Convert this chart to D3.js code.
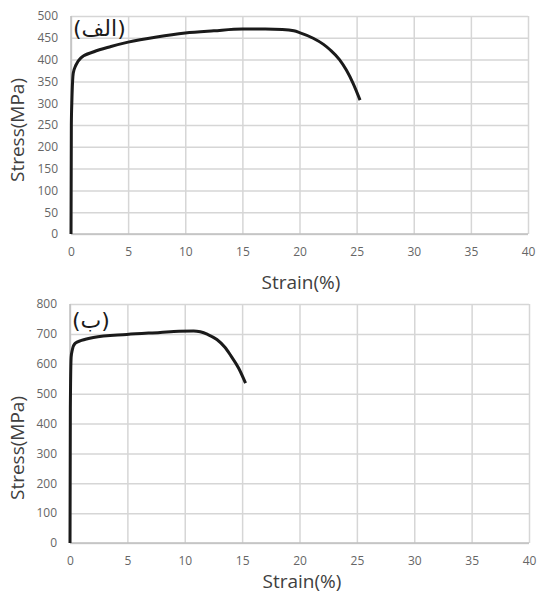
<!DOCTYPE html>
<html>
<head>
<meta charset="utf-8">
<script src="https://cdn.jsdelivr.net/npm/d3@7"></script>
<style>
html,body{margin:0;padding:0;background:#fff;}
svg{display:block;}
</style>
</head>
<body>
<svg id="c" width="537" height="596"></svg>
<script>
// Data
const xTicks = [0, 5, 10, 15, 20, 25, 30, 35, 40];
const yTicksA = [0, 50, 100, 150, 200, 250, 300, 350, 400, 450, 500];
const yTicksB = [0, 100, 200, 300, 400, 500, 600, 700, 800];

const strainA = [0, 0.03, 0.08, 0.2, 0.44, 0.87, 2, 3.5, 5, 7.5, 10, 12.5, 15, 17, 18.5, 19.5, 20, 21.2, 22.1, 22.7, 23.5, 24.1, 24.7, 25.3];
const stressA = [0, 250, 307, 369, 388, 404, 418, 430, 440, 452, 461, 466, 470, 470, 469, 466, 462, 449, 435, 422, 400, 376, 345, 307];

const strainB = [0, 0.03, 0.1, 0.2, 0.44, 1, 2.04, 4.95, 7.86, 9.5, 10.77, 11.35, 12, 12.8, 13.5, 14, 14.7, 15.3];
const stressB = [0, 450, 622, 646, 668, 678, 688, 698, 705, 709, 710, 707, 698, 681, 655, 628, 585, 535];

const svg = d3.select("#c");
const font = "'Open Sans', sans-serif";

function drawChart(cfg) {
  const x = d3.scaleLinear().domain([0, 40]).range([cfg.x0, cfg.x1]);
  const y = d3.scaleLinear().domain([0, cfg.ymax]).range([cfg.y0, cfg.y1]);
  const g = svg.append("g");

  // grid
  g.append("g").attr("transform", `translate(0,${cfg.y0})`)
    .call(d3.axisBottom(x).tickValues(xTicks).tickSize(-(cfg.y0 - cfg.y1)).tickFormat(""))
    .call(s => s.select(".domain").remove())
    .call(s => s.selectAll("line").attr("stroke", "#d6d6d6").attr("stroke-width", 1.5));
  g.append("g").attr("transform", `translate(${cfg.x0},0)`)
    .call(d3.axisLeft(y).tickValues(cfg.yTicks).tickSize(-(cfg.x1 - cfg.x0)).tickFormat(""))
    .call(s => s.select(".domain").remove())
    .call(s => s.selectAll("line").attr("stroke", "#d6d6d6").attr("stroke-width", 1.5));

  // axis lines
  g.append("line").attr("x1", x(0)).attr("x2", x(40)).attr("y1", y(0)).attr("y2", y(0))
    .attr("stroke", "#bfbfbf").attr("stroke-width", 1.5);
  g.append("line").attr("x1", x(0)).attr("x2", x(0)).attr("y1", y(0)).attr("y2", y(cfg.ymax))
    .attr("stroke", "#bfbfbf").attr("stroke-width", 1.5);

  // tick labels
  const xa = g.append("g").attr("transform", `translate(0,${cfg.y0})`)
    .call(d3.axisBottom(x).tickValues(xTicks).tickSize(0).tickPadding(13));
  xa.select(".domain").remove();
  xa.selectAll("text").attr("font-family", font).attr("font-size", 12).attr("fill", "#666666");

  const ya = g.append("g").attr("transform", `translate(${cfg.x0},0)`)
    .call(d3.axisLeft(y).tickValues(cfg.yTicks).tickSize(0).tickPadding(13));
  ya.select(".domain").remove();
  ya.selectAll("text").attr("font-family", font).attr("font-size", 12).attr("fill", "#666666");

  // titles
  g.append("text").attr("x", cfg.xTitleX).attr("y", cfg.xTitleY)
    .attr("text-anchor", "middle").attr("font-family", font).attr("font-size", 19).attr("fill", "#404040")
    .text("Strain(%)");
  g.append("text").attr("transform", `translate(24,${cfg.yTitleC}) rotate(-90)`)
    .attr("text-anchor", "middle").attr("font-family", font).attr("font-size", 19).attr("fill", "#404040")
    .text("Stress(MPa)");

  // curve
  const line = d3.line().x(d => x(d[0])).y(d => y(d[1])).curve(d3.curveMonotoneX);
  g.append("path").datum(cfg.sx.map((v, i) => [v, cfg.sy[i]]))
    .attr("d", line).attr("fill", "none").attr("stroke", "#1a1a1a").attr("stroke-width", 3)
    .attr("stroke-linejoin", "round").attr("stroke-linecap", "butt");

  // panel label
  g.append("text").attr("x", cfg.x0 + 2).attr("y", cfg.y1 + cfg.labelDy)
    .attr("font-family", "'DejaVu Sans', sans-serif").attr("font-size", 22).attr("fill", "#1a1a1a")
    .text(cfg.label);
}

drawChart({x0: 71, x1: 528, y0: 234, y1: 16, ymax: 500, yTicks: yTicksA,
  sx: strainA, sy: stressA, xTitleX: 301, xTitleY: 289, yTitleC: 130, label: "(الف)", labelDy: 20});
drawChart({x0: 70, x1: 529, y0: 543, y1: 304, ymax: 800, yTicks: yTicksB,
  sx: strainB, sy: stressB, xTitleX: 302, xTitleY: 588, yTitleC: 448, label: "(ب)", labelDy: 24});
</script>
</body>
</html>
